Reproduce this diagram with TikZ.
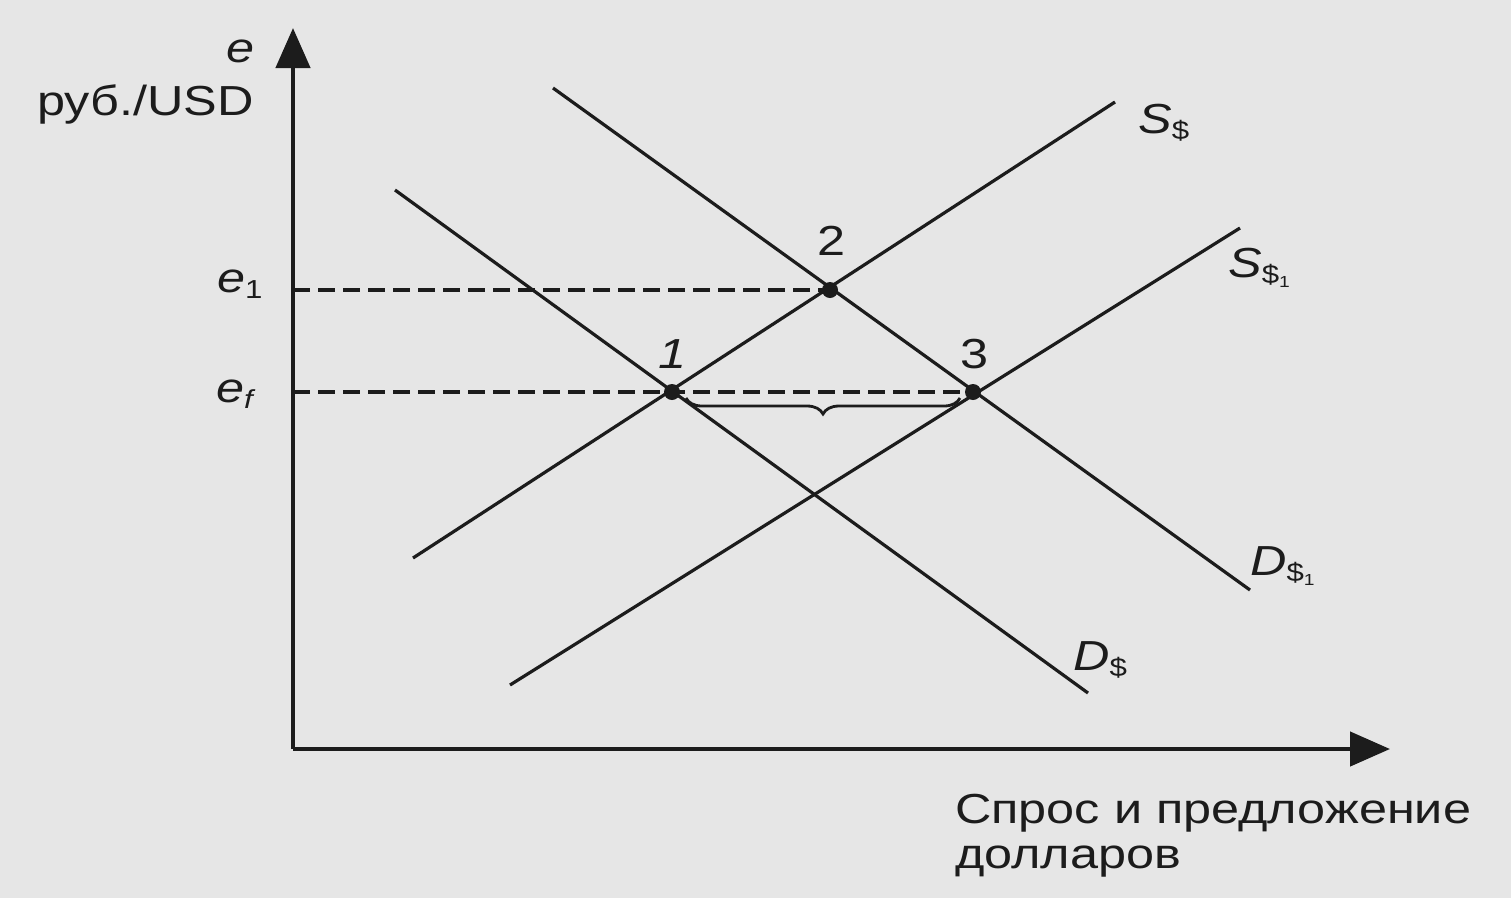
\documentclass[tikz,border=0pt]{standalone}
\usepackage{fontspec}
\setmainfont{Liberation Sans}[FakeStretch=1.2]
\usetikzlibrary{arrows.meta,decorations.pathreplacing}
\definecolor{paper}{HTML}{E6E6E6}
\definecolor{ink}{HTML}{1C1C1C}
\tikzset{
  axis/.style={line width=4.5pt, draw=ink, -{Triangle[length=40pt,width=34pt]}},
  curve/.style={line width=3.2pt, draw=ink},
  guide/.style={line width=3.4pt, draw=ink, dash pattern=on 17pt off 8pt},
  eqpt/.style={circle, fill=ink, inner sep=0pt, minimum size=16pt},
  lbl/.style={font=\fontsize{42}{45}\selectfont, text=ink, inner sep=0pt, anchor=base west},
  crvlbl/.style={lbl, font=\fontsize{42}{45}\selectfont\itshape},
  gapbrace/.style={line width=2.8pt, draw=ink, decorate,
    decoration={brace, mirror, amplitude=16pt}},
}
\newcommand{\lowsub}[1]{\raisebox{-0.3ex}{\fontsize{26}{26}\selectfont\upshape #1}}
\newcommand{\tinysub}[1]{\raisebox{-0.25ex}{\fontsize{16}{16}\selectfont\upshape #1}}

\begin{document}
\begin{tikzpicture}[x=1pt, y=-1pt]
  \fill[paper] (0,0) rectangle (1511,898);
  \useasboundingbox (0,0) rectangle (1511,898);
  % axes
  \coordinate (o) at (293,749);
  \coordinate (ytop) at (293,28);
  \coordinate (xend) at (1390,749);
  \draw[axis] (o) -- (ytop);
  \draw[axis] (o) -- (xend);
  % curves
  \coordinate (d0a) at (395,190);
  \coordinate (d0b) at (1088,693);
  \coordinate (d1a) at (553,88);
  \coordinate (d1b) at (1250,590);
  \coordinate (s0a) at (413,558);
  \coordinate (s0b) at (1115,102);
  \coordinate (s1a) at (510,685);
  \coordinate (s1b) at (1240,228);
  \draw[curve] (d0a) -- (d0b);
  \draw[curve] (d1a) -- (d1b);
  \draw[curve] (s0a) -- (s0b);
  \draw[curve] (s1a) -- (s1b);
  % equilibria
  \node[eqpt] (eq1) at (672,392) {};
  \node[eqpt] (eq2) at (830,290) {};
  \node[eqpt] (eq3) at (973,392) {};
  \coordinate (e1ax) at (293,290);
  \coordinate (efax) at (293,392);
  \draw[guide] (e1ax) -- (eq2.center);
  \draw[guide] (efax) -- (eq3.center);
  \draw[gapbrace] (686,398) -- (960,398);
  % labels
  \node[crvlbl] (ylbl) at (226,62) {e};
  \node[lbl] (yunit) at (37,115) {руб./USD};
  \node[crvlbl] (e1lbl) at (217,292) {e\lowsub{1}};
  \node[crvlbl] (eflbl) at (216,402) {e\lowsub{\itshape f}};
  \node[lbl, anchor=base] (n1) at (673,368) {\itshape 1};
  \node[lbl, anchor=base] (n2) at (832,255) {2};
  \node[lbl, anchor=base] (n3) at (974,368) {3};
  \node[crvlbl] (s0lbl) at (1138,133) {S\lowsub{\$}};
  \node[crvlbl] (s1lbl) at (1228,277) {S\lowsub{\$\tinysub{1}}};
  \node[crvlbl] (d1lbl) at (1250,575) {D\lowsub{\$\tinysub{1}}};
  \node[crvlbl] (d0lbl) at (1073,670) {D\lowsub{\$}};
  \node[lbl, align=left, font=\fontsize{42}{45}\selectfont] (xlbl) at (955,868)
    {Спрос и предложение\\долларов};
\end{tikzpicture}
\end{document}
